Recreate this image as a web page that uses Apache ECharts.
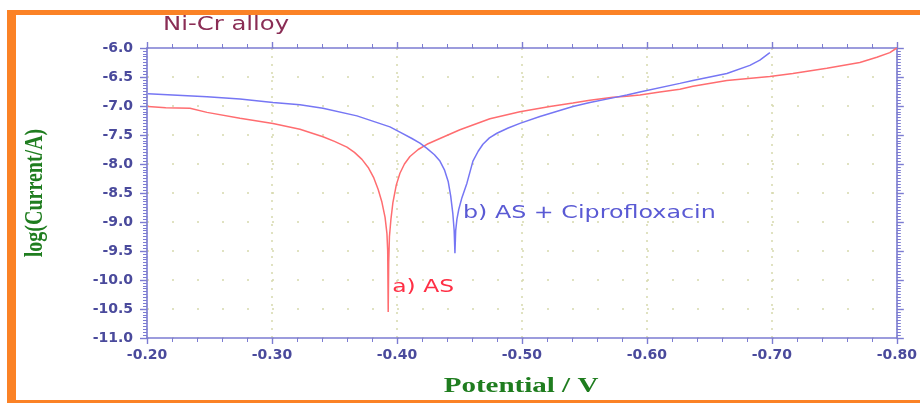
<!DOCTYPE html>
<html><head><meta charset="utf-8">
<script src="https://cdn.jsdelivr.net/npm/echarts@6/dist/echarts.min.js"></script>
<style>html,body{margin:0;padding:0;background:#fff;overflow:hidden}#c{width:920px;height:403px}</style>
</head><body><div id="c"></div>
<script>
// ---- data ----
const titleText = 'Ni-Cr alloy';
const xAxisName = 'Potential / V';
const yAxisName = 'log(Current/A)';
const xTickValues = [-0.20, -0.30, -0.40, -0.50, -0.60, -0.70, -0.80];
const yTickValues = [-6.0, -6.5, -7.0, -7.5, -8.0, -8.5, -9.0, -9.5, -10.0, -10.5, -11.0];
const seriesAName = 'a) AS';
const seriesBName = 'b) AS + Ciprofloxacin';

const redPotential = [-0.2008, -0.215, -0.2344, -0.248, -0.2744, -0.3008, -0.3224, -0.3408, -0.350, -0.360,
  -0.366, -0.372, -0.377, -0.3815, -0.385, -0.388, -0.3905, -0.392, -0.3926, -0.3930,
  -0.3934, -0.3940, -0.3952, -0.3968, -0.3995, -0.4024, -0.4060, -0.4104, -0.4170, -0.424,
  -0.4344, -0.4504, -0.4744, -0.4984, -0.5224, -0.5408, -0.5544, -0.5728, -0.584, -0.5944,
  -0.6104, -0.6264, -0.6368, -0.664, -0.6984, -0.7168, -0.744, -0.7704, -0.784, -0.7944, -0.80];
const redLogI = [-7.01, -7.03, -7.04, -7.11, -7.21, -7.30, -7.40, -7.53, -7.61, -7.71,
  -7.80, -7.92, -8.06, -8.24, -8.44, -8.66, -8.92, -9.20, -9.50, -10.55,
  -9.70, -9.25, -8.95, -8.66, -8.36, -8.16, -8.00, -7.87, -7.75, -7.66,
  -7.56, -7.41, -7.22, -7.10, -7.01, -6.95, -6.90, -6.85, -6.83, -6.81,
  -6.76, -6.71, -6.66, -6.56, -6.49, -6.44, -6.35, -6.25, -6.16, -6.08, -6.00];

const bluePotential = [-0.2008, -0.248, -0.2744, -0.3008, -0.3224, -0.3408, -0.368, -0.3944, -0.4024, -0.4120,
  -0.4184, -0.424, -0.4300, -0.4344, -0.438, -0.441, -0.443, -0.4447, -0.4458, -0.4464,
  -0.4470, -0.4480, -0.4495, -0.4520, -0.456, -0.4608, -0.4650, -0.4688, -0.4740, -0.48,
  -0.4890, -0.4984, -0.5144, -0.5408, -0.5544, -0.5728, -0.584, -0.5944, -0.6264,
  -0.6368, -0.664, -0.6824, -0.6904, -0.6984];
const blueLogI = [-6.79, -6.84, -6.88, -6.94, -6.98, -7.04, -7.17, -7.36, -7.45, -7.56,
  -7.64, -7.73, -7.84, -7.95, -8.10, -8.30, -8.55, -8.85, -9.15, -9.54,
  -9.15, -8.95, -8.78, -8.58, -8.33, -7.95, -7.78, -7.66, -7.55, -7.47,
  -7.38, -7.30, -7.18, -7.01, -6.94, -6.86, -6.81, -6.76, -6.61,
  -6.56, -6.44, -6.30, -6.21, -6.08];

// ---- chart ----
const zip = (xs, ys) => xs.map((x, i) => [x, ys[i]]);
const chart = echarts.init(document.getElementById('c'), null, {renderer: 'canvas'});

const AXIS_COLOR = '#7c7cd2';
const LABEL_COLOR = '#4a4a9c';
const GRID_DOT = '#d6d9ad';
const NAME_COLOR = '#1f7d1f';
const FRAME = '#fb8226';
const GRID = {left: 147, right: 23, top: 48, bottom: 65};

const xBase = {
  type: 'value', min: -0.8, max: -0.2, interval: 0.1, inverse: true,
  axisLine: {show: true, onZero: false, lineStyle: {color: AXIS_COLOR, width: 1.6}},
  axisTick: {show: true, inside: false, length: 6, lineStyle: {color: AXIS_COLOR, width: 1.4}},
  minorTick: {show: true, splitNumber: 5, length: 4, lineStyle: {color: AXIS_COLOR, width: 1}}
};
const yBase = {
  type: 'value', min: -11, max: -6, interval: 0.5,
  axisLine: {show: true, onZero: false, lineStyle: {color: AXIS_COLOR, width: 1.6}},
  axisTick: {show: true, inside: false, length: 7, lineStyle: {color: AXIS_COLOR, width: 1.4}},
  minorTick: {show: true, splitNumber: 10, length: 4, lineStyle: {color: AXIS_COLOR, width: 1}}
};

const option = {
  animation: false,
  backgroundColor: '#ffffff',
  grid: Object.assign({containLabel: false}, GRID),
  xAxis: [
    Object.assign({}, xBase, {
      position: 'bottom',
      axisLabel: {
        color: LABEL_COLOR, fontFamily: 'DejaVu Sans', fontWeight: 'bold', fontSize: 14, margin: 10,
        formatter: v => xTickValues.find(t => Math.abs(t - v) < 1e-6) !== undefined ? v.toFixed(2) : ''
      },
      splitLine: {show: true, lineStyle: {color: GRID_DOT, width: 1.5, type: [2, 6]}}
    }),
    Object.assign({}, xBase, {
      position: 'top',
      axisLabel: {show: false},
      splitLine: {show: false}
    })
  ],
  yAxis: [
    Object.assign({}, yBase, {
      position: 'left',
      axisLabel: {
        color: LABEL_COLOR, fontFamily: 'DejaVu Sans', fontWeight: 'bold', fontSize: 14, margin: 14,
        formatter: v => yTickValues.find(t => Math.abs(t - v) < 1e-6) !== undefined ? v.toFixed(1) : ''
      },
      splitLine: {show: true, lineStyle: {color: GRID_DOT, width: 1.5, type: [2, 23], dashOffset: 0}}
    }),
    Object.assign({}, yBase, {
      position: 'right',
      axisLabel: {show: false},
      splitLine: {show: false}
    })
  ],
  series: [
    {
      name: seriesAName, type: 'line', xAxisIndex: 0, yAxisIndex: 0,
      showSymbol: false, symbol: 'none', smooth: false,
      lineStyle: {color: '#ff6d70', width: 1.5},
      data: zip(redPotential, redLogI), z: 3
    },
    {
      name: seriesBName, type: 'line', xAxisIndex: 0, yAxisIndex: 0,
      showSymbol: false, symbol: 'none', smooth: false,
      lineStyle: {color: '#7676f4', width: 1.5},
      data: zip(bluePotential, blueLogI), z: 4
    }
  ],
  graphic: [
    {type: 'rect', id: 'frameL', shape: {x: 7, y: 10, width: 9, height: 393}, style: {fill: FRAME}, z: 100},
    {type: 'rect', id: 'frameT', shape: {x: 7, y: 10, width: 913, height: 5}, style: {fill: FRAME}, z: 100},
    {type: 'rect', id: 'frameB', shape: {x: 7, y: 400, width: 913, height: 3}, style: {fill: FRAME}, z: 100},
    {type: 'text', id: 'title', x: 163, y: 25, scaleX: 1.28,
      style: {text: titleText, fill: '#8a2d55', font: '19px "DejaVu Sans"', align: 'left', verticalAlign: 'middle'}, z: 100},
    {type: 'text', id: 'xname', x: 521, y: 387, scaleX: 1.45,
      style: {text: xAxisName, fill: NAME_COLOR, font: 'bold 20px "Liberation Serif"', align: 'center', verticalAlign: 'middle'}, z: 100},
    {type: 'text', id: 'yname', x: 35, y: 193, rotation: Math.PI / 2, scaleY: 1.3,
      style: {text: yAxisName, fill: NAME_COLOR, font: 'bold 20px "Liberation Serif"', align: 'center', verticalAlign: 'middle'}, z: 100}
  ]
};
chart.setOption(option);

// annotations placed in data space next to each curve's minimum
const aMinIdx = redLogI.indexOf(Math.min(...redLogI));
const bMinIdx = blueLogI.indexOf(Math.min(...blueLogI));
const pa = chart.convertToPixel({gridIndex: 0}, [redPotential[aMinIdx], -10.12]);
const pb = chart.convertToPixel({gridIndex: 0}, [bluePotential[bMinIdx], -8.84]);
chart.setOption({
  graphic: [
    {type: 'text', id: 'labA', x: pa[0] + 4, y: pa[1] + 1, scaleX: 1.38,
      style: {text: seriesAName, fill: '#ff2f45', font: '17px "DejaVu Sans"', align: 'left', verticalAlign: 'middle'}, z: 100},
    {type: 'text', id: 'labB', x: pb[0] + 8, y: pb[1] + 1, scaleX: 1.4,
      style: {text: seriesBName, fill: '#5a5ad4', font: '17px "DejaVu Sans"', align: 'left', verticalAlign: 'middle'}, z: 100}
  ]
});
</script></body></html>
